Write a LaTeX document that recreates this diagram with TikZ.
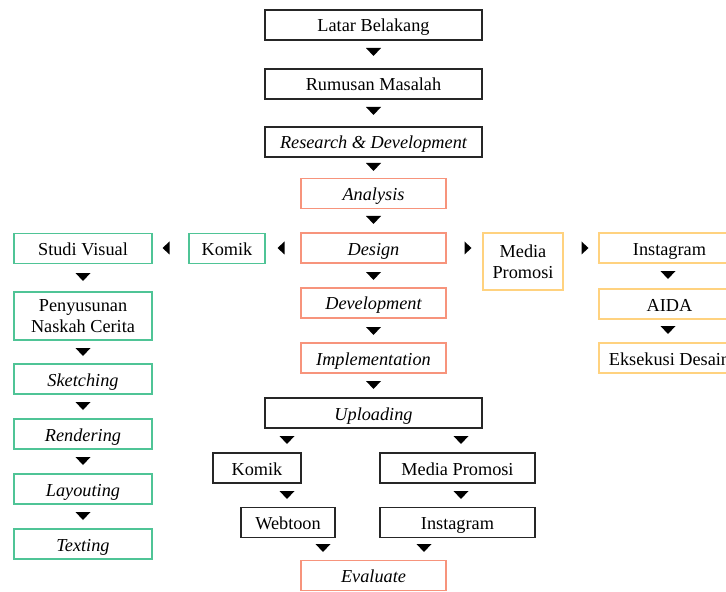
\documentclass[tikz,border=0pt]{standalone}
\usepackage{fontspec}
\setmainfont{Liberation Serif}
\usepackage{tikz}
\usetikzlibrary{calc}

\definecolor{garishitam}{HTML}{262626}
\definecolor{garismerah}{HTML}{F7947C}
\definecolor{garishijau}{HTML}{4FC496}
\definecolor{gariskuning}{HTML}{FFD27F}

% segitiga penunjuk arah (koordinat dalam piksel)
\newcommand{\panahbawah}[1]{\fill (#1) ++(-7.5,-4) -- ++(15,0) -- ++(-7.5,8) -- cycle;}
\newcommand{\panahkiri}[1]{\fill (#1) ++(3.5,-6.5) -- ++(0,13) -- ++(-7,-6.5) -- cycle;}
\newcommand{\panahkanan}[1]{\fill (#1) ++(-3.5,-6.5) -- ++(0,13) -- ++(7,-6.5) -- cycle;}

\begin{document}
\begin{tikzpicture}[x=0.75pt,y=-0.75pt,
  every node/.style={font=\fontsize{13.7}{16}\selectfont, align=center, inner sep=0pt},
  kotak/.style={draw=garishitam, line width=1.1pt, minimum height=22.5pt, text height=11.5pt, text depth=1pt},
  duabaris/.style={text height=, text depth=},
  kotakmerah/.style={kotak, draw=garismerah, minimum width=108.75pt},
  kotakhijau/.style={kotak, draw=garishijau},
  kotakkuning/.style={kotak, draw=gariskuning}]
\useasboundingbox (0,0) rectangle (726,592);

% alur utama
\node[kotak, minimum width=162.75pt] (latar) at (373.5,25) {Latar Belakang};
\node[kotak, minimum width=162.75pt] (rumusan) at (373.5,84) {Rumusan Masalah};
\node[kotak, minimum width=162.75pt] (rnd) at (373.5,142) {\itshape Research \& Development};
\node[kotakmerah] (analysis) at (373.5,193.5) {\itshape Analysis};
\node[kotakmerah] (design) at (373.5,248) {\itshape Design};
\node[kotakmerah] (devel) at (373.5,303) {\itshape Development};
\node[kotakmerah] (implem) at (373.5,358) {\itshape Implementation};
\node[kotak, minimum width=162.75pt] (upload) at (373.5,413) {\itshape Uploading};
\node[kotak, minimum width=66pt] (komikb) at (257,468) {Komik};
\node[kotak, minimum width=116.25pt] (mediab) at (457.5,468) {Media Promosi};
\node[kotak, minimum width=70.5pt] (webtoon) at (288,522.5) {Webtoon};
\node[kotak, minimum width=116.25pt] (instab) at (457.5,522.5) {Instagram};
\node[kotakmerah] (evaluate) at (373.5,575.5) {\itshape Evaluate};

% cabang komik
\node[kotakhijau, minimum width=57pt] (komikl) at (227,248.5) {Komik};
\node[kotakhijau, minimum width=103.5pt] (studi) at (83,248.5) {Studi Visual};
\node[kotakhijau, duabaris, minimum width=103.5pt, minimum height=36pt] (naskah) at (83,316) {Penyusunan\\Naskah Cerita};
\node[kotakhijau, minimum width=103.5pt] (sketch) at (83,379) {\itshape Sketching};
\node[kotakhijau, minimum width=103.5pt] (render) at (83,434) {\itshape Rendering};
\node[kotakhijau, minimum width=103.5pt] (layout) at (83,489) {\itshape Layouting};
\node[kotakhijau, minimum width=103.5pt] (texting) at (83,544) {\itshape Texting};

% cabang media promosi
\node[kotakkuning, duabaris, minimum width=60pt, minimum height=42.75pt] (mediar) at (523,261.5) {Media\\Promosi};
\node[kotakkuning, minimum width=105.75pt] (instar) at (669.5,248) {Instagram};
\node[kotakkuning, minimum width=105.75pt] (aida) at (669.5,304) {AIDA};
\node[kotakkuning, minimum width=105.75pt] (eksekusi) at (669.5,358) {Eksekusi Desain};

% penunjuk
\panahbawah{373.5,52}
\panahbawah{373.5,111}
\panahbawah{373.5,167}
\panahbawah{373.5,220}
\panahbawah{373.5,276}
\panahbawah{373.5,331}
\panahbawah{373.5,385}
\panahbawah{287,440}
\panahbawah{461,440}
\panahbawah{287,495}
\panahbawah{461,495}
\panahbawah{323,548}
\panahbawah{424,548}
\panahbawah{83,277}
\panahbawah{83,352}
\panahbawah{83,406}
\panahbawah{83,461}
\panahbawah{83,516}
\panahbawah{668,275}
\panahbawah{668,330}
\panahkiri{166,248}
\panahkiri{281,248}
\panahkanan{468,248}
\panahkanan{585,248}
\end{tikzpicture}
\end{document}
